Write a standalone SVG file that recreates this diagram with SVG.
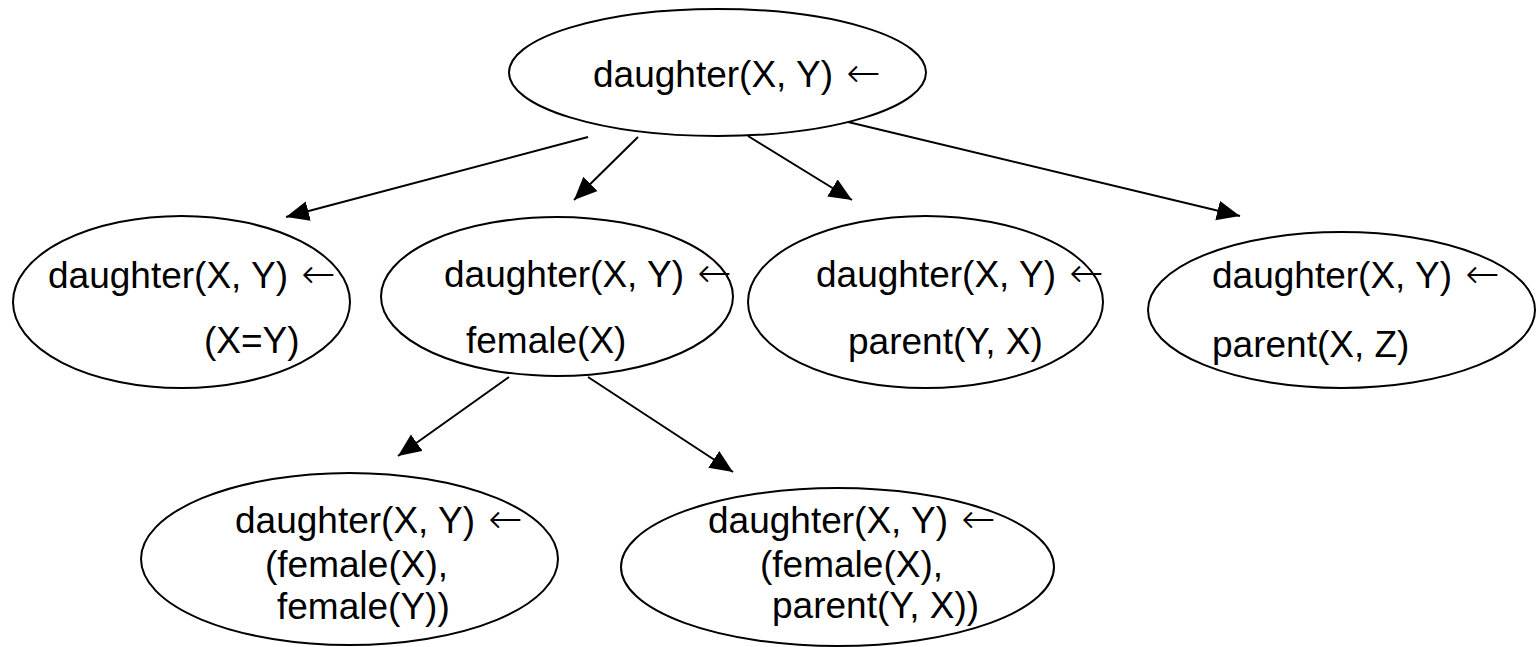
<svg xmlns="http://www.w3.org/2000/svg" width="1539" height="647" viewBox="0 0 1539 647">
  <style>
    .node ellipse { fill: #fff; stroke: #000; stroke-width: 2; }
    .node text { font-family: "Liberation Sans", Arial, "DejaVu Sans", sans-serif; font-size: 37px; fill: #000; }
    .node .arr { font-family: "DejaVu Sans", sans-serif; font-weight: 200; font-size: 41px; }
    .edges line { stroke: #000; stroke-width: 2; marker-end: url(#head); }
  </style>
  <defs>
    <marker id="head" markerUnits="userSpaceOnUse" markerWidth="26" markerHeight="22" refX="23" refY="10" orient="auto">
      <path d="M0,0 L23,10 L0,20 Z" fill="#000"/>
    </marker>
  </defs>

  <!-- root clause -->
  <g id="root" class="node">
    <ellipse cx="717.5" cy="72.5" rx="208.5" ry="63.5"/>
    <text x="593" y="87">daughter(X, Y) <tspan class="arr" dx="3">←</tspan></text>
  </g>

  <!-- first level refinements -->
  <g id="eq" class="node">
    <ellipse cx="181.5" cy="302" rx="168.5" ry="86"/>
    <text x="48" y="288">daughter(X, Y) <tspan class="arr" dx="3">←</tspan></text>
    <text x="204" y="353">(X=Y)</text>
  </g>
  <g id="female" class="node">
    <ellipse cx="557" cy="296.5" rx="176" ry="79.5"/>
    <text x="444" y="287">daughter(X, Y) <tspan class="arr" dx="3">←</tspan></text>
    <text x="466" y="353">female(X)</text>
  </g>
  <g id="parentYX" class="node">
    <ellipse cx="925.5" cy="302" rx="177.5" ry="86"/>
    <text x="816" y="287">daughter(X, Y) <tspan class="arr" dx="3">←</tspan></text>
    <text x="848" y="354">parent(Y, X)</text>
  </g>
  <g id="parentXZ" class="node">
    <ellipse cx="1341.5" cy="310" rx="193.5" ry="78"/>
    <text x="1212" y="288">daughter(X, Y) <tspan class="arr" dx="3">←</tspan></text>
    <text x="1212" y="357">parent(X, Z)</text>
  </g>

  <!-- second level refinements -->
  <g id="femaleFemale" class="node">
    <ellipse cx="349.5" cy="559" rx="208.5" ry="86"/>
    <text x="235" y="533">daughter(X, Y) <tspan class="arr" dx="3">←</tspan></text>
    <text x="265" y="577">(female(X),</text>
    <text x="277" y="619">female(Y))</text>
  </g>
  <g id="femaleParent" class="node">
    <ellipse cx="837.5" cy="567" rx="216.5" ry="79"/>
    <text x="708" y="533">daughter(X, Y) <tspan class="arr" dx="3">←</tspan></text>
    <text x="760" y="577">(female(X),</text>
    <text x="772" y="618">parent(Y, X))</text>
  </g>

  <!-- connectors -->
  <g id="edges" class="edges">
    <line x1="588" y1="137" x2="286" y2="217"/>
    <line x1="638" y1="137" x2="574" y2="200"/>
    <line x1="748" y1="136" x2="852" y2="200"/>
    <line x1="848" y1="122" x2="1240" y2="216"/>
    <line x1="509" y1="377" x2="398" y2="456"/>
    <line x1="588" y1="377" x2="733" y2="472"/>
  </g>
</svg>
